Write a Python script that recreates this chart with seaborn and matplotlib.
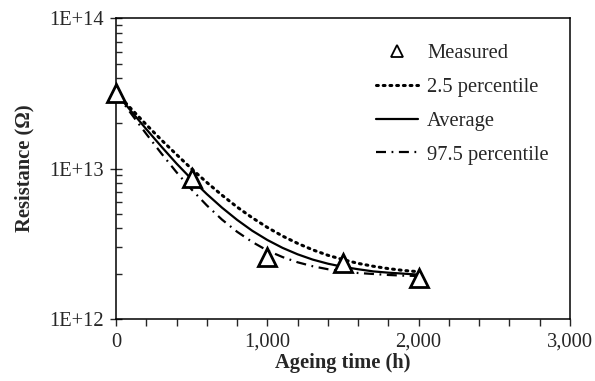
import numpy as np
import pandas as pd
import matplotlib
matplotlib.use("Agg")
import matplotlib.pyplot as plt
from matplotlib.lines import Line2D
from matplotlib.ticker import MultipleLocator, FixedLocator, FuncFormatter, LogLocator, NullFormatter
import seaborn as sns

# --- data ---
meas_t = [0, 500, 1000, 1500, 2000]
meas_r = [3.16e13, 8.7e12, 2.59e12, 2.36e12, 1.88e12]

curve_t = [0, 100, 200, 300, 400, 500, 600, 700, 800, 900, 1000,
           1100, 1200, 1300, 1400, 1500, 1600, 1700, 1800, 1900, 2000]
p025_r = [3.19e13, 2.50e13, 1.96e13, 1.55e13, 1.24e13, 9.95e12, 8.09e12, 6.66e12,
          5.55e12, 4.71e12, 4.06e12, 3.56e12, 3.18e12, 2.88e12, 2.65e12, 2.48e12,
          2.34e12, 2.24e12, 2.16e12, 2.10e12, 2.06e12]
avg_r = [3.19e13, 2.41e13, 1.83e13, 1.40e13, 1.08e13, 8.49e12, 6.77e12, 5.50e12,
         4.56e12, 3.86e12, 3.35e12, 2.97e12, 2.69e12, 2.48e12, 2.33e12, 2.22e12,
         2.14e12, 2.07e12, 2.03e12, 2.00e12, 1.97e12]
p975_r = [3.19e13, 2.32e13, 1.70e13, 1.26e13, 9.45e12, 7.25e12, 5.69e12, 4.58e12,
          3.80e12, 3.25e12, 2.85e12, 2.58e12, 2.38e12, 2.24e12, 2.14e12, 2.07e12,
          2.02e12, 1.99e12, 1.96e12, 1.94e12, 1.93e12]

sns.set_style("white")
plt.rcParams['font.family'] = ['Liberation Serif', 'DejaVu Serif']
FS = 14.8
DOT = (0, (0.6, 1.6))
DASHDOT = (0, (4.5, 2.5, 0.8, 2.5))

fig = plt.figure(figsize=(5.95, 3.81), dpi=100)
ax = fig.add_axes([0.195, 0.163, 0.763, 0.789])

curves = pd.DataFrame({'t': curve_t, 'p025': p025_r, 'avg': avg_r, 'p975': p975_r})
sns.lineplot(data=curves, x='t', y='p025', ax=ax, color='black', lw=2.2,
             linestyle=DOT, dash_capstyle='round')
sns.lineplot(data=curves, x='t', y='avg', ax=ax, color='black', lw=1.6)
sns.lineplot(data=curves, x='t', y='p975', ax=ax, color='black', lw=1.6,
             linestyle=DASHDOT)
ax.plot(meas_t, meas_r, linestyle='none', marker='^', markersize=13,
        markerfacecolor='white', markeredgecolor='black', markeredgewidth=2, zorder=5,
        clip_on=False)

ax.set_yscale('log')
ax.set_xlim(0, 3000)
ax.set_ylim(1e12, 1e14)

ax.xaxis.set_major_locator(MultipleLocator(1000))
ax.xaxis.set_minor_locator(MultipleLocator(200))
ax.xaxis.set_major_formatter(FuncFormatter(lambda v, p: f"{int(v):,}"))
ax.yaxis.set_major_locator(FixedLocator([1e12, 1e13, 1e14]))
ax.yaxis.set_major_formatter(FuncFormatter(lambda v, p: f"1E+{int(round(np.log10(v)))}"))
ax.yaxis.set_minor_locator(LogLocator(base=10, subs=np.arange(2, 10)))
ax.yaxis.set_minor_formatter(NullFormatter())

ax.tick_params(axis='x', which='both', direction='out', length=5, width=1,
               labelsize=FS, pad=5, bottom=True)
ax.tick_params(axis='y', which='major', direction='inout', length=9, width=1,
               labelsize=FS, pad=4, left=True)
ax.tick_params(axis='y', which='minor', direction='in', length=4, width=1, left=True)
for s in ax.spines.values():
    s.set_color('black')
    s.set_linewidth(1.1)

ax.set_xlabel('Ageing time (h)', fontsize=FS, fontweight='bold', labelpad=1)
ax.set_ylabel('Resistance (Ω)', fontsize=FS, fontweight='bold', labelpad=11)

handles = [
    Line2D([], [], linestyle='none', marker='^', markersize=9, markerfacecolor='white',
           markeredgecolor='black', markeredgewidth=1.3),
    Line2D([], [], color='black', lw=2.2, linestyle=DOT, dash_capstyle='round'),
    Line2D([], [], color='black', lw=1.6),
    Line2D([], [], color='black', lw=1.6, linestyle=DASHDOT),
]
labels = ['Measured', '2.5 percentile', 'Average', '97.5 percentile']
ax.legend(handles, labels, loc='upper left', bbox_to_anchor=(0.572, 0.915),
          frameon=False, fontsize=FS, borderpad=0, borderaxespad=0,
          handlelength=2.05, handletextpad=0.45, labelspacing=0.7)

fig.savefig('out.png', dpi=100)
